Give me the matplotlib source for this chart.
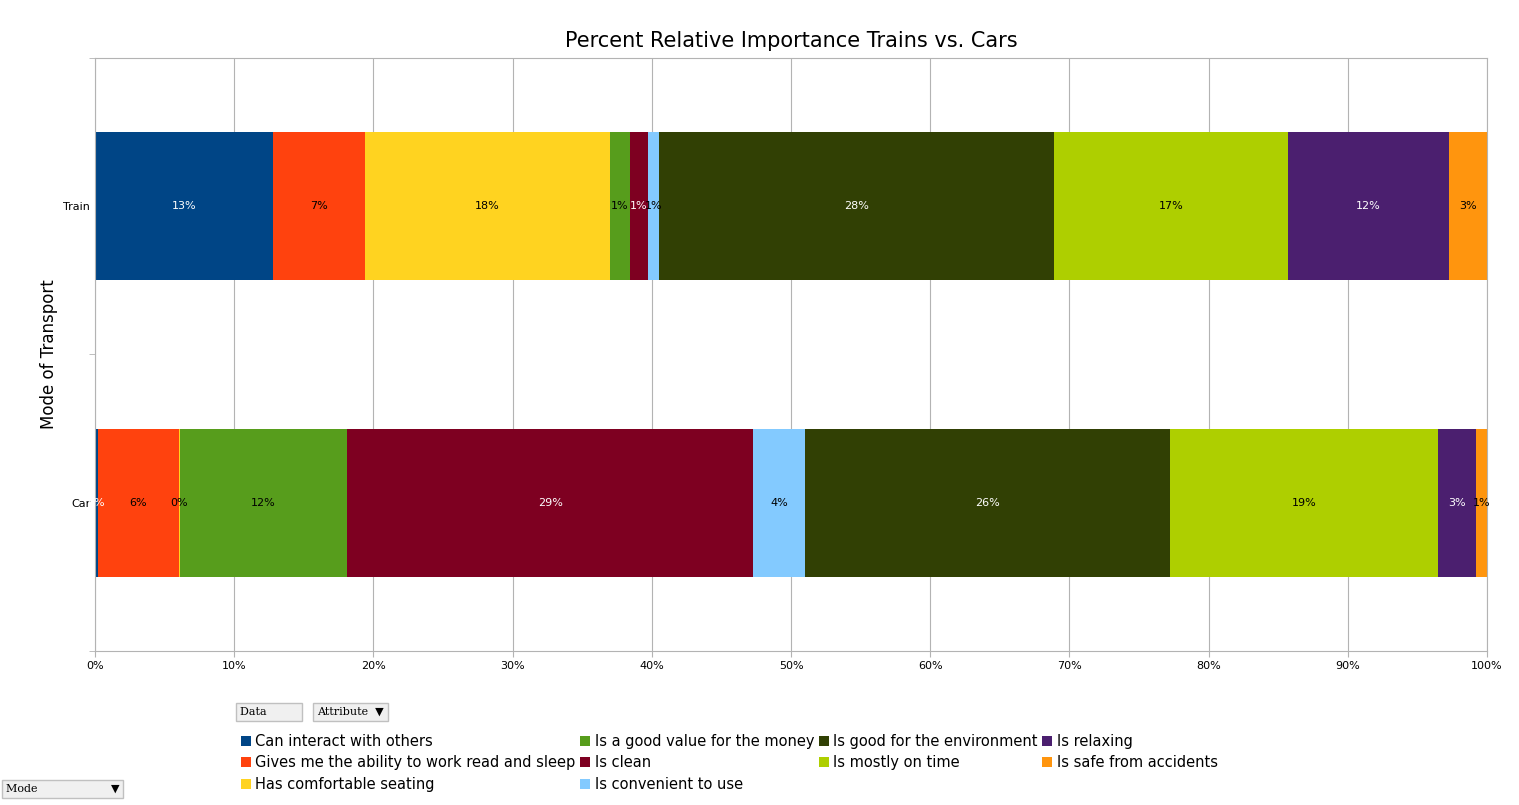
import matplotlib
matplotlib.use("Agg")
import matplotlib.pyplot as plt
import numpy as np

modes = ["Train", "Car"]
attributes = ["Can interact with others", "Gives me the ability to work read and sleep",
              "Has comfortable seating", "Is a good value for the money", "Is clean",
              "Is convenient to use", "Is good for the environment", "Is mostly on time",
              "Is relaxing", "Is safe from accidents"]
train = [12.8, 6.6, 17.6, 1.4, 1.3, 0.8, 28.4, 16.8, 11.6, 2.7]
car = [0.2, 5.8, 0.1, 12.0, 29.2, 3.7, 26.2, 19.3, 2.7, 0.9]
colors = ["#004586", "#ff420e", "#ffd320", "#579d1c", "#7e0021",
          "#83caff", "#314004", "#aecf00", "#4b1f6f", "#ff950e"]
white_text = {0, 4, 6, 8}

fig = plt.figure(figsize=(15.19, 8.05), dpi=100)
ax = fig.add_axes([95/1519, 1-651/805, 1392/1519, 593/805])

data = np.array([train, car])
left = np.zeros(2)
for i, name in enumerate(attributes):
    vals = data[:, i]
    ax.barh([0, 1], vals, left=left, height=0.5, color=colors[i], label=name, zorder=2)
    for j in range(2):
        ax.text(left[j] + vals[j] / 2, j, f"{vals[j]:.0f}%", ha="center", va="center",
                fontsize=8, color="white" if i in white_text else "black", zorder=3)
    left += vals

ax.set_xlim(0, 100)
ax.set_ylim(1.5, -0.5)
ax.set_xticks(np.arange(0, 101, 10))
ax.set_xticklabels([f"{v}%" for v in range(0, 101, 10)], fontsize=8)
ax.set_yticks([0, 1])
ax.set_yticklabels(modes, fontsize=8)
ax.set_yticks([-0.5, 0.5, 1.5], minor=True)
ax.tick_params(axis="y", which="major", length=0)
ax.tick_params(axis="y", which="minor", length=4, color="#b3b3b3")
ax.tick_params(axis="x", length=4, color="#b3b3b3")
ax.grid(axis="x", color="#b3b3b3", zorder=0)
for s in ax.spines.values():
    s.set_color("#b3b3b3")
ax.set_ylabel("Mode of Transport", fontsize=12)
ax.set_title("Percent Relative Importance Trains vs. Cars", fontsize=15, pad=8)

fig.legend(loc="upper left", bbox_to_anchor=(235/1519, 1-728/805), ncol=4, frameon=False,
           fontsize=10.5, handlelength=0.7, handleheight=0.7, handletextpad=0.3,
           columnspacing=0.3, labelspacing=0.45, borderaxespad=0)

box = dict(boxstyle="square,pad=0.35", fc="#f0f0f0", ec="#c0c0c0")
fig.text(240/1519, 1-712/805, "Data         ", fontsize=8, family="serif", va="center", bbox=box)
fig.text(317/1519, 1-712/805, "Attribute  \u25bc", fontsize=8, family="serif", va="center", bbox=box)
fig.text(6/1519, 1-789/805, "Mode                     \u25bc", fontsize=8, family="serif", va="center", bbox=box)

fig.savefig("out.png", dpi=100)
